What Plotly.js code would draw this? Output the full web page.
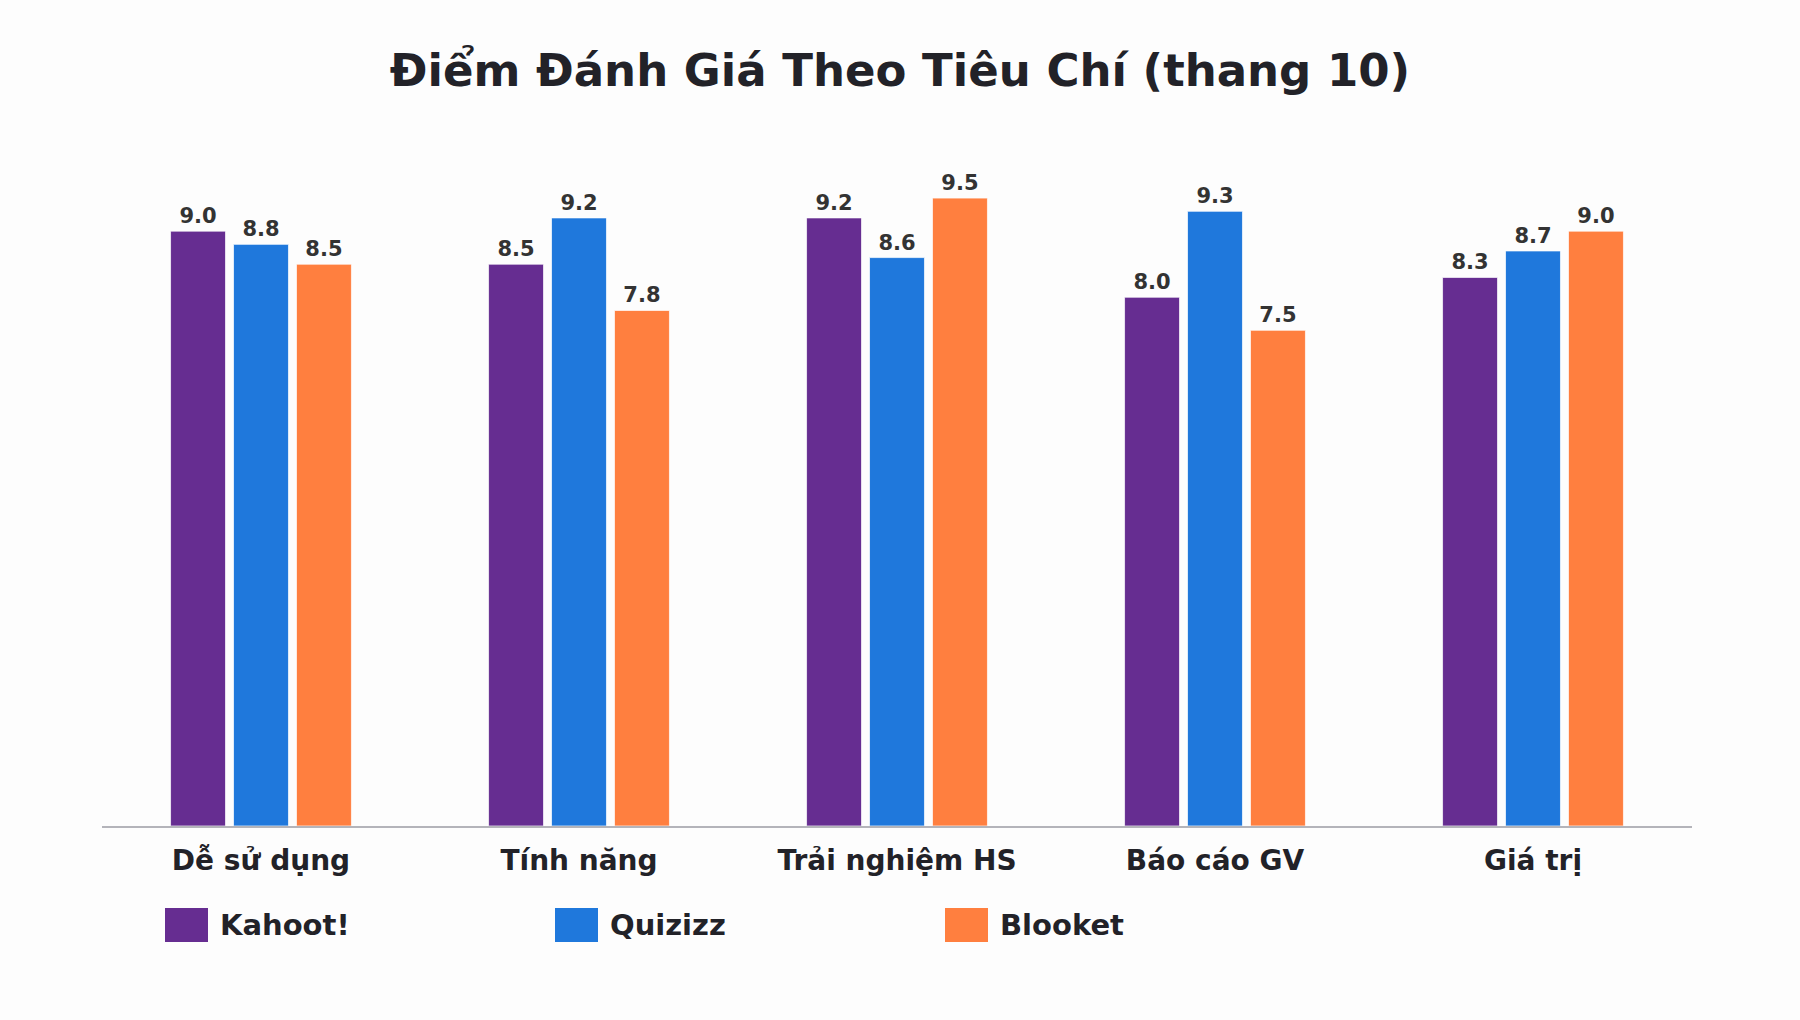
<!DOCTYPE html>
<html>
<head>
<meta charset="utf-8">
<script src="https://cdn.plot.ly/plotly-3.0.1.min.js"></script>
<style>
  html, body { margin: 0; padding: 0; background: #fdfdfd; }
  #chart { width: 1800px; height: 1020px; }
</style>
</head>
<body>
<div id="chart"></div>
<script>
// Scores per criterion (out of 10)
const criteria = ['Dễ sử dụng', 'Tính năng', 'Trải nghiệm HS', 'Báo cáo GV', 'Giá trị'];
const seriesNames = ['Kahoot!', 'Quizizz', 'Blooket'];
const kahootScores = [9.0, 8.5, 9.2, 8.0, 8.3];
const quizizzScores = [8.8, 9.2, 8.6, 9.3, 8.7];
const blooketScores = [8.5, 7.8, 9.5, 7.5, 9.0];
const seriesColors = ['#662D91', '#1F78DC', '#FF7F3F'];

const W = 1800, H = 1020;
const M = { l: 102, r: 108, t: 132, b: 194 };
const FONT = 'DejaVu Sans, Verdana, sans-serif';
const TEXT_DARK = '#222228';

// pixel -> paper helpers for the hand-drawn legend
const plotW = W - M.l - M.r;
const plotH = H - M.t - M.b;
const px2x = px => (px - M.l) / plotW;
const px2y = py => (H - M.b - py) / plotH;

const allScores = [kahootScores, quizizzScores, blooketScores];

const traces = seriesNames.map((name, i) => ({
    type: 'bar',
    name: name,
    x: criteria,
    y: allScores[i],
    marker: {
        color: seriesColors[i],
        line: { color: 'rgba(255,255,255,0.7)', width: 1 },
    },
    text: allScores[i].map(v => v.toFixed(1)),
    textposition: 'outside',
    textfont: { family: FONT, size: 21, weight: 'bold', color: '#333333' },
    cliponaxis: false,
    hoverinfo: 'x+y+name',
    showlegend: false,
}));

// Legend: big colour patches + labels, laid out in a row under the axis
const legendShapes = [];
const legendLabels = [];
seriesNames.forEach((name, i) => {
    const left = 165 + i * 390;
    legendShapes.push({
        type: 'rect', xref: 'paper', yref: 'paper',
        x0: px2x(left), x1: px2x(left + 43),
        y0: px2y(942), y1: px2y(908),
        fillcolor: seriesColors[i],
        line: { width: 0 },
    });
    legendLabels.push({
        xref: 'paper', yref: 'paper',
        x: px2x(left + 53), y: px2y(925),
        xanchor: 'left', yanchor: 'middle',
        text: name, showarrow: false,
        font: { family: FONT, size: 29, weight: 'bold', color: TEXT_DARK },
    });
});

const layout = {
    width: W,
    height: H,
    margin: M,
    paper_bgcolor: '#fdfdfd',
    plot_bgcolor: '#fdfdfd',
    title: {
        text: 'Điểm Đánh Giá Theo Tiêu Chí (thang 10)',
        font: { family: FONT, size: 45, weight: 'bold', color: TEXT_DARK },
        xref: 'container', x: 0.5, xanchor: 'center',
        yref: 'container', y: 1 - 70 / H, yanchor: 'middle',
    },
    barmode: 'group',
    bargap: 0.406,
    bargroupgap: 0.127,
    xaxis: {
        showline: true,
        linecolor: '#b4b4ba',
        linewidth: 2,
        ticks: '',
        showgrid: false,
        zeroline: false,
        tickfont: { family: FONT, size: 28, weight: 'bold', color: TEXT_DARK },
        ticklabelstandoff: 8,
    },
    yaxis: {
        range: [0, 10.5],
        showgrid: false,
        zeroline: false,
        showticklabels: false,
        showline: false,
        ticks: '',
    },
    shapes: legendShapes,
    annotations: legendLabels,
    showlegend: false,
};

Plotly.newPlot('chart', traces, layout, { displayModeBar: false, staticPlot: true });
</script>
</body>
</html>
